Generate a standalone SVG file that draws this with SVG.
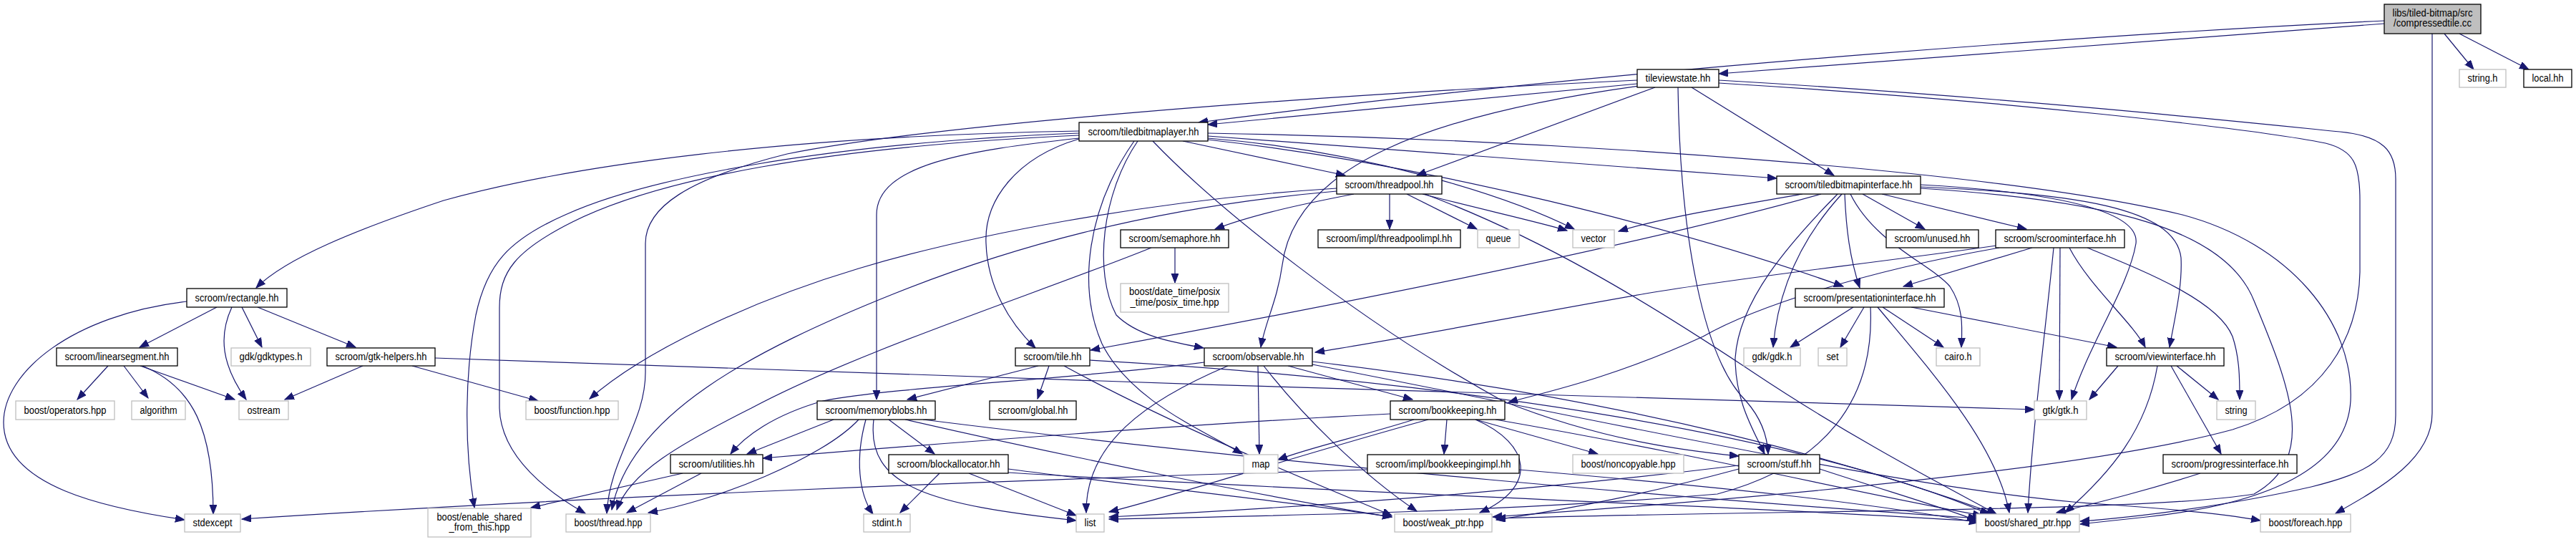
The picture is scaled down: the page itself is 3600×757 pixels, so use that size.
<svg xmlns="http://www.w3.org/2000/svg" width="3600" height="757" viewBox="0 0 3600 757">
<style>
.n rect{fill:#fff;stroke:#000;stroke-width:1.3}
.s rect{fill:#fff;stroke:#bfbfbf;stroke-width:1.3}
.m rect{fill:#bfbfbf;stroke:#000;stroke-width:1.3}
text{font-family:"Liberation Sans",Arial,sans-serif;font-size:14px;text-anchor:middle;fill:#000}
#edges path{fill:none;stroke:#191970;stroke-width:1.2;marker-end:url(#a)}
</style>
<defs>
<marker id="a" markerWidth="14" markerHeight="11" refX="13" refY="5" orient="auto" markerUnits="userSpaceOnUse"><path d="M0,0L13,5L0,10z" fill="#191970" stroke="#191970" stroke-width="1"/></marker>
</defs>
<rect x="0" y="0" width="3600" height="757" fill="#fff"/>
<g id="edges">
<path d="M3416,47 L3457,97"/>
<path d="M3437,47 L3534,97"/>
<path d="M3399,47 L3399,577 C3399,640 3330,680 3264,717"/>
<path d="M3332,33 L2402,103"/>
<path d="M3332,29 C3000,45 2300,90 1675,171"/>
<path d="M2288,117 L1688,174"/>
<path d="M2288,112 C1800,135 1300,175 1100,215 C960,250 902,290 902,340 L902,520 C902,590 852,640 848,717"/>
<path d="M2313,122 L1980,245"/>
<path d="M2364,122 L2563,245"/>
<path d="M2290,120 C2000,160 1810,230 1792,370 C1785,420 1768,450 1762,485"/>
<path d="M2345,122 C2348,330 2380,500 2440,560 C2462,585 2470,610 2471,634"/>
<path d="M2402,112 C2800,135 3150,172 3270,184 C3330,190 3348,210 3348,250 L3348,580 C3348,640 3310,660 3230,680 C3120,705 2990,722 2907,728"/>
<path d="M2402,116 C2800,140 3150,180 3250,200 C3290,210 3298,230 3298,280 L3298,380 C3296,470 3250,560 3120,600 C2900,660 2400,700 2086,722"/>
<path d="M1653,197 L1880,245"/>
<path d="M1688,190 C1900,205 2200,228 2483,249"/>
<path d="M1688,193 C1900,210 2100,270 2200,320"/>
<path d="M1688,195 C2000,230 2350,320 2576,400"/>
<path d="M1688,186 C2200,195 2800,240 3050,300 C3200,340 3290,450 3285,560 C3280,640 3200,700 3000,722 L2907,732"/>
<path d="M1508,193 C1350,210 1225,230 1225,300 L1225,558"/>
<path d="M1508,194 C1420,220 1375,280 1378,340 C1380,400 1410,450 1447,486"/>
<path d="M1590,197 C1540,270 1528,380 1560,440 C1590,470 1640,478 1682,486"/>
<path d="M1585,197 C1520,290 1505,400 1540,480 C1580,560 1680,600 1736,634"/>
<path d="M1611,197 C1700,290 1900,450 2100,560 C2250,620 2380,632 2430,637"/>
<path d="M1508,186 C1150,200 900,250 790,300 C710,335 680,370 665,440 C650,520 648,620 663,709"/>
<path d="M1508,189 C1150,205 920,250 800,310 C720,350 698,380 698,430 L698,570 C700,640 770,690 818,717"/>
<path d="M1508,183 C1100,190 800,230 620,280 C500,320 400,360 358,402"/>
<path d="M1892,271 C1820,285 1750,300 1698,320"/>
<path d="M1868,263 C1600,280 1350,330 1200,375 C1050,420 900,490 824,557"/>
<path d="M1868,267 C1600,290 1400,350 1250,410 C1050,490 880,580 855,712"/>
<path d="M1942,271 L1942,320"/>
<path d="M1966,271 L2064,320"/>
<path d="M1988,271 C2060,290 2150,310 2190,322"/>
<path d="M1991,271 C2150,330 2300,420 2450,520 C2600,620 2740,690 2790,718"/>
<path d="M1642,346 L1642,395"/>
<path d="M1609,346 C1450,410 1200,490 1050,570 C950,620 880,660 862,712"/>
<path d="M2603,271 L2690,320"/>
<path d="M2630,271 L2832,320"/>
<path d="M2519,271 C2420,288 2320,305 2262,323"/>
<path d="M2545,271 C2300,340 1900,420 1524,489"/>
<path d="M2568,271 C2500,340 2430,420 2425,500 C2425,560 2450,600 2466,634"/>
<path d="M2574,271 C2520,330 2485,400 2478,485"/>
<path d="M2578,271 C2580,320 2585,360 2599,402"/>
<path d="M2586,271 C2620,340 2700,370 2725,400 C2745,430 2742,460 2741,485"/>
<path d="M2684,258 C2900,270 2990,300 2985,340 C2975,400 2920,480 2895,558"/>
<path d="M2684,261 C2900,270 3040,290 3048,360 C3050,400 3040,440 3032,485"/>
<path d="M2684,263 C2950,280 3110,320 3150,420 C3200,540 3240,640 3150,690 C3000,715 2500,712 2091,724"/>
<path d="M2840,346 L2660,400"/>
<path d="M2879,346 L2878,558"/>
<path d="M2870,346 C2860,450 2840,600 2834,716"/>
<path d="M2892,346 C2920,400 2980,450 2998,485"/>
<path d="M2917,346 C3000,380 3100,420 3120,470 C3130,500 3130,530 3130,558"/>
<path d="M2794,346 C2600,380 2450,430 2380,470 C2250,530 2150,550 2108,562"/>
<path d="M2790,343 C2600,370 2450,385 2300,410 C2100,445 1950,475 1838,492"/>
<path d="M2590,429 L2502,485"/>
<path d="M2605,429 L2572,485"/>
<path d="M2631,429 L2716,485"/>
<path d="M2671,429 L2958,485"/>
<path d="M2624,429 C2700,520 2790,620 2808,716"/>
<path d="M2614,429 C2620,560 2550,650 2400,690 C2100,715 1800,720 1550,725"/>
<path d="M303,429 L195,485"/>
<path d="M338,429 L366,485"/>
<path d="M360,429 L497,485"/>
<path d="M324,429 C305,470 310,510 344,558"/>
<path d="M261,421 C100,440 5,520 5,590 C5,680 150,710 258,726"/>
<path d="M151,511 L108,558"/>
<path d="M173,511 L207,556"/>
<path d="M196,511 L328,558"/>
<path d="M199,511 C270,540 298,600 298,718"/>
<path d="M507,511 L398,558"/>
<path d="M576,511 L752,560"/>
<path d="M608,500 C1200,520 2300,560 2843,572"/>
<path d="M1451,511 L1268,558"/>
<path d="M1466,511 L1450,557"/>
<path d="M1523,503 C2000,530 2500,600 2780,718"/>
<path d="M1487,511 C1650,600 1850,680 1945,720"/>
<path d="M1800,511 L1974,558"/>
<path d="M1758,511 L1760,634"/>
<path d="M1716,511 C1600,560 1517,620 1518,716"/>
<path d="M1766,511 C1820,580 1900,660 1980,714"/>
<path d="M1683,506 C1500,530 1250,540 1150,560 C1080,580 1040,610 1021,634"/>
<path d="M1834,505 C2300,560 2600,650 2790,718"/>
<path d="M1834,509 C2300,600 2700,690 2950,705 C3050,712 3120,720 3159,727"/>
<path d="M1165,586 L1044,634"/>
<path d="M1242,586 L1306,634"/>
<path d="M1210,586 C1195,640 1200,690 1220,718"/>
<path d="M1221,586 C1210,680 1300,705 1504,727"/>
<path d="M1200,586 C1150,640 1000,700 906,716"/>
<path d="M1265,586 C1500,640 1800,700 1945,722"/>
<path d="M1290,586 C1800,650 2400,700 2765,724"/>
<path d="M1313,661 L1258,716"/>
<path d="M1354,661 L1504,720"/>
<path d="M1409,655 C1600,680 1800,700 1945,722"/>
<path d="M1409,660 C1900,690 2400,705 2765,728"/>
<path d="M954,661 L742,709"/>
<path d="M980,661 L876,716"/>
<path d="M2022,586 L2018,634"/>
<path d="M2062,586 L2233,634"/>
<path d="M1943,578 C1700,590 1300,620 1066,640"/>
<path d="M1976,586 C1900,610 1830,625 1786,642"/>
<path d="M1996,586 C1800,640 1650,690 1550,715"/>
<path d="M2062,586 C2140,620 2150,680 2068,716"/>
<path d="M2090,586 C2400,640 2600,690 2770,720"/>
<path d="M1911,656 C1400,670 800,695 338,725"/>
<path d="M2123,656 C2400,680 2600,700 2765,730"/>
<path d="M2543,655 C2650,690 2720,710 2762,727"/>
<path d="M2430,650 C2100,690 1800,710 1550,722"/>
<path d="M2430,655 C2300,690 2200,710 2091,726"/>
<path d="M2960,511 L2920,558"/>
<path d="M3042,511 L3100,558"/>
<path d="M3034,511 L3104,634"/>
<path d="M3015,511 C3000,600 2950,660 2886,716"/>
<path d="M3075,661 C3000,685 2940,700 2874,716"/>
</g>
<g id="node-compressedtile" class="m"><rect x="3332" y="6" width="135" height="41"/><text x="3399.5" y="22.5" textLength="112" lengthAdjust="spacingAndGlyphs">libs/tiled-bitmap/src</text><text x="3399.5" y="37" textLength="109" lengthAdjust="spacingAndGlyphs">/compressedtile.cc</text></g>
<g id="node-tileviewstate" class="n"><rect x="2288" y="97" width="114" height="25"/><text x="2345" y="114" textLength="91" lengthAdjust="spacingAndGlyphs">tileviewstate.hh</text></g>
<g id="node-string_h" class="s"><rect x="3437" y="97" width="65" height="25"/><text x="3469.5" y="114" textLength="42" lengthAdjust="spacingAndGlyphs">string.h</text></g>
<g id="node-local" class="n"><rect x="3527" y="97" width="67" height="25"/><text x="3560.5" y="114" textLength="44" lengthAdjust="spacingAndGlyphs">local.hh</text></g>
<g id="node-tiledbitmaplayer" class="n"><rect x="1508" y="171" width="180" height="26"/><text x="1598" y="188.5" textLength="155" lengthAdjust="spacingAndGlyphs">scroom/tiledbitmaplayer.hh</text></g>
<g id="node-threadpool" class="n"><rect x="1868" y="246" width="147" height="25"/><text x="1941.5" y="263" textLength="124" lengthAdjust="spacingAndGlyphs">scroom/threadpool.hh</text></g>
<g id="node-tiledbitmapinterface" class="n"><rect x="2483" y="246" width="201" height="25"/><text x="2583.5" y="263" textLength="178" lengthAdjust="spacingAndGlyphs">scroom/tiledbitmapinterface.hh</text></g>
<g id="node-semaphore" class="n"><rect x="1566" y="321" width="151" height="25"/><text x="1641.5" y="338" textLength="128" lengthAdjust="spacingAndGlyphs">scroom/semaphore.hh</text></g>
<g id="node-threadpoolimpl" class="n"><rect x="1842" y="321" width="199" height="25"/><text x="1941.5" y="338" textLength="176" lengthAdjust="spacingAndGlyphs">scroom/impl/threadpoolimpl.hh</text></g>
<g id="node-queue" class="s"><rect x="2065" y="321" width="58" height="25"/><text x="2094" y="338" textLength="35" lengthAdjust="spacingAndGlyphs">queue</text></g>
<g id="node-vector" class="s"><rect x="2198" y="321" width="58" height="25"/><text x="2227" y="338" textLength="35" lengthAdjust="spacingAndGlyphs">vector</text></g>
<g id="node-unused" class="n"><rect x="2636" y="321" width="129" height="25"/><text x="2700.5" y="338" textLength="106" lengthAdjust="spacingAndGlyphs">scroom/unused.hh</text></g>
<g id="node-scroominterface" class="n"><rect x="2789" y="321" width="180" height="25"/><text x="2879" y="338" textLength="157" lengthAdjust="spacingAndGlyphs">scroom/scroominterface.hh</text></g>
<g id="node-posix_time" class="s"><rect x="1566" y="396" width="151" height="40"/><text x="1641.5" y="412" textLength="127" lengthAdjust="spacingAndGlyphs">boost/date_time/posix</text><text x="1641.5" y="427" textLength="124" lengthAdjust="spacingAndGlyphs">_time/posix_time.hpp</text></g>
<g id="node-rectangle" class="n"><rect x="261" y="403" width="140" height="26"/><text x="331" y="420.5" textLength="117" lengthAdjust="spacingAndGlyphs">scroom/rectangle.hh</text></g>
<g id="node-presentationinterface" class="n"><rect x="2509" y="403" width="208" height="26"/><text x="2613" y="420.5" textLength="185" lengthAdjust="spacingAndGlyphs">scroom/presentationinterface.hh</text></g>
<g id="node-linearsegment" class="n"><rect x="79" y="486" width="169" height="25"/><text x="163.5" y="503" textLength="146" lengthAdjust="spacingAndGlyphs">scroom/linearsegment.hh</text></g>
<g id="node-gdktypes" class="s"><rect x="323" y="486" width="111" height="25"/><text x="378.5" y="503" textLength="88" lengthAdjust="spacingAndGlyphs">gdk/gdktypes.h</text></g>
<g id="node-gtk-helpers" class="n"><rect x="457" y="486" width="151" height="25"/><text x="532.5" y="503" textLength="128" lengthAdjust="spacingAndGlyphs">scroom/gtk-helpers.hh</text></g>
<g id="node-tile" class="n"><rect x="1419" y="486" width="104" height="25"/><text x="1471" y="503" textLength="81" lengthAdjust="spacingAndGlyphs">scroom/tile.hh</text></g>
<g id="node-observable" class="n"><rect x="1683" y="486" width="151" height="25"/><text x="1758.5" y="503" textLength="128" lengthAdjust="spacingAndGlyphs">scroom/observable.hh</text></g>
<g id="node-gdk_h" class="s"><rect x="2437" y="486" width="79" height="25"/><text x="2476.5" y="503" textLength="56" lengthAdjust="spacingAndGlyphs">gdk/gdk.h</text></g>
<g id="node-set" class="s"><rect x="2541" y="486" width="40" height="25"/><text x="2561" y="503" textLength="17" lengthAdjust="spacingAndGlyphs">set</text></g>
<g id="node-cairo_h" class="s"><rect x="2706" y="486" width="61" height="25"/><text x="2736.5" y="503" textLength="38" lengthAdjust="spacingAndGlyphs">cairo.h</text></g>
<g id="node-viewinterface" class="n"><rect x="2944" y="486" width="164" height="25"/><text x="3026" y="503" textLength="141" lengthAdjust="spacingAndGlyphs">scroom/viewinterface.hh</text></g>
<g id="node-operators" class="s"><rect x="22" y="560" width="138" height="26"/><text x="91" y="577.5" textLength="115" lengthAdjust="spacingAndGlyphs">boost/operators.hpp</text></g>
<g id="node-algorithm" class="s"><rect x="184" y="560" width="75" height="26"/><text x="221.5" y="577.5" textLength="52" lengthAdjust="spacingAndGlyphs">algorithm</text></g>
<g id="node-ostream" class="s"><rect x="334" y="560" width="69" height="26"/><text x="368.5" y="577.5" textLength="46" lengthAdjust="spacingAndGlyphs">ostream</text></g>
<g id="node-function" class="s"><rect x="735" y="560" width="129" height="26"/><text x="799.5" y="577.5" textLength="106" lengthAdjust="spacingAndGlyphs">boost/function.hpp</text></g>
<g id="node-memoryblobs" class="n"><rect x="1142" y="560" width="165" height="26"/><text x="1224.5" y="577.5" textLength="142" lengthAdjust="spacingAndGlyphs">scroom/memoryblobs.hh</text></g>
<g id="node-global" class="n"><rect x="1383" y="560" width="121" height="26"/><text x="1443.5" y="577.5" textLength="98" lengthAdjust="spacingAndGlyphs">scroom/global.hh</text></g>
<g id="node-bookkeeping" class="n"><rect x="1943" y="560" width="160" height="26"/><text x="2023" y="577.5" textLength="137" lengthAdjust="spacingAndGlyphs">scroom/bookkeeping.hh</text></g>
<g id="node-gtk_h" class="s"><rect x="2843" y="560" width="73" height="26"/><text x="2879.5" y="577.5" textLength="50" lengthAdjust="spacingAndGlyphs">gtk/gtk.h</text></g>
<g id="node-string" class="s"><rect x="3098" y="560" width="54" height="26"/><text x="3125" y="577.5" textLength="31" lengthAdjust="spacingAndGlyphs">string</text></g>
<g id="node-utilities" class="n"><rect x="937" y="635" width="129" height="26"/><text x="1001.5" y="652.5" textLength="106" lengthAdjust="spacingAndGlyphs">scroom/utilities.hh</text></g>
<g id="node-blockallocator" class="n"><rect x="1242" y="635" width="167" height="26"/><text x="1325.5" y="652.5" textLength="144" lengthAdjust="spacingAndGlyphs">scroom/blockallocator.hh</text></g>
<g id="node-map" class="s"><rect x="1738" y="635" width="48" height="26"/><text x="1762" y="652.5" textLength="25" lengthAdjust="spacingAndGlyphs">map</text></g>
<g id="node-bookkeepingimpl" class="n"><rect x="1911" y="635" width="212" height="26"/><text x="2017" y="652.5" textLength="189" lengthAdjust="spacingAndGlyphs">scroom/impl/bookkeepingimpl.hh</text></g>
<g id="node-noncopyable" class="s"><rect x="2198" y="635" width="155" height="26"/><text x="2275.5" y="652.5" textLength="132" lengthAdjust="spacingAndGlyphs">boost/noncopyable.hpp</text></g>
<g id="node-stuff" class="n"><rect x="2430" y="635" width="113" height="26"/><text x="2486.5" y="652.5" textLength="90" lengthAdjust="spacingAndGlyphs">scroom/stuff.hh</text></g>
<g id="node-progressinterface" class="n"><rect x="3023" y="635" width="187" height="26"/><text x="3116.5" y="652.5" textLength="164" lengthAdjust="spacingAndGlyphs">scroom/progressinterface.hh</text></g>
<g id="node-stdexcept" class="s"><rect x="258" y="718" width="78" height="25"/><text x="297" y="735" textLength="55" lengthAdjust="spacingAndGlyphs">stdexcept</text></g>
<g id="node-enable_shared" class="s"><rect x="598" y="710" width="144" height="40"/><text x="670" y="727" textLength="119" lengthAdjust="spacingAndGlyphs">boost/enable_shared</text><text x="670" y="741" textLength="85" lengthAdjust="spacingAndGlyphs">_from_this.hpp</text></g>
<g id="node-thread" class="s"><rect x="791" y="718" width="118" height="25"/><text x="850" y="735" textLength="95" lengthAdjust="spacingAndGlyphs">boost/thread.hpp</text></g>
<g id="node-stdint" class="s"><rect x="1207" y="718" width="65" height="25"/><text x="1239.5" y="735" textLength="42" lengthAdjust="spacingAndGlyphs">stdint.h</text></g>
<g id="node-list" class="s"><rect x="1504" y="718" width="39" height="25"/><text x="1523.5" y="735" textLength="16" lengthAdjust="spacingAndGlyphs">list</text></g>
<g id="node-weak_ptr" class="s"><rect x="1949" y="718" width="136" height="25"/><text x="2017" y="735" textLength="113" lengthAdjust="spacingAndGlyphs">boost/weak_ptr.hpp</text></g>
<g id="node-shared_ptr" class="s"><rect x="2762" y="718" width="144" height="25"/><text x="2834" y="735" textLength="121" lengthAdjust="spacingAndGlyphs">boost/shared_ptr.hpp</text></g>
<g id="node-foreach" class="s"><rect x="3159" y="718" width="126" height="25"/><text x="3222" y="735" textLength="103" lengthAdjust="spacingAndGlyphs">boost/foreach.hpp</text></g>
</svg>
